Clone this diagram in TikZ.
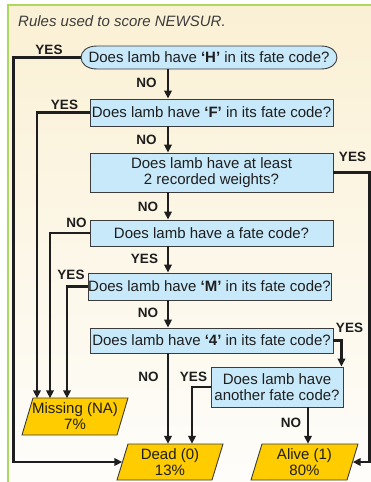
\documentclass[tikz,border=0pt]{standalone}
\usepackage{fontspec}
\setmainfont{Liberation Sans}
\usetikzlibrary{arrows.meta}
\definecolor{bgtop}{RGB}{250,240,212}
\definecolor{bgbot}{RGB}{254,253,250}
\definecolor{frameg}{RGB}{172,216,98}
\definecolor{boxblue}{RGB}{200,233,250}
\definecolor{boxline}{RGB}{60,60,60}
\definecolor{gold}{RGB}{255,204,0}
\definecolor{ink}{RGB}{30,30,30}
\definecolor{titlec}{RGB}{60,60,60}
\begin{document}
\begin{tikzpicture}[x=1pt,y=-1pt,
  qbox/.style={draw=boxline,fill=boxblue,line width=0.9pt,minimum width=243pt,inner sep=0pt,align=center,font=\fontsize{15}{16}\selectfont,text=ink},
  pshape/.style={draw=boxline,fill=gold,line width=0.9pt},
  ptext/.style={inner sep=0pt,align=center,minimum width=95pt,minimum height=36pt,font=\fontsize{15}{16}\selectfont,text=ink},
  lab/.style={font=\fontsize{13.5}{14}\selectfont\bfseries,text=ink,inner sep=0pt},
  conn/.style={draw=ink,line width=2.4pt,-{Triangle[length=8pt,width=7.5pt]}},
]
\useasboundingbox (0,0) rectangle (371,482);
\fill[white] (0,0) rectangle (371,482);
\fill[top color=bgtop,bottom color=bgbot] (8,5) rectangle (371,482);
\draw[frameg,line width=1.5pt] (8,482) -- (8,5) -- (371,5);

\node[anchor=west,font=\fontsize{15}{16}\selectfont\itshape,text=titlec,inner sep=0pt] (title) at (18,21) {Rules used to score NEWSUR.};

% shapes drawn directly
\filldraw[draw=boxline,fill=boxblue,line width=0.9pt] (97,46) -- (321,46) .. controls (342.3,46) and (342.3,69) .. (321,69) -- (97,69) .. controls (75.7,69) and (75.7,46) .. (97,46) -- cycle;
\filldraw[pshape] (33,398) -- (128,398) -- (117,435) -- (22,435) -- cycle;
\filldraw[pshape] (128,444) -- (223,444) -- (212,480) -- (117,480) -- cycle;
\filldraw[pshape] (262,444) -- (358,444) -- (347,480) -- (251,480) -- cycle;

% nodes
\node[qbox,draw=none,fill=none,minimum width=256pt,minimum height=23pt] (H) at (209,57.5) {Does lamb have \textbf{‘H’} in its fate code?};
\node[qbox,minimum height=27pt] (F) at (211.5,112.5) {Does lamb have \textbf{‘F’} in its fate code?};
\node[qbox,minimum height=39pt] (W) at (211.5,172.5) {Does lamb have at least\\2 recorded weights?};
\node[qbox,minimum height=26pt] (FC) at (211.5,233) {Does lamb have a fate code?};
\node[qbox,minimum height=27pt] (M) at (209.5,286.5) {Does lamb have \textbf{‘M’} in its fate code?};
\node[qbox,minimum height=25pt] (F4) at (211.5,340.5) {Does lamb have \textbf{‘4’} in its fate code?};
\node[qbox,minimum width=132pt,minimum height=40pt] (AN) at (277,387) {Does lamb have\\another fate code?};
\node[ptext] (Miss) at (75,416.5) {Missing (NA)\\7\%};
\node[ptext] (Dead) at (170,462) {Dead (0)\\13\%};
\node[ptext,minimum width=96pt] (Alive) at (304.5,462) {Alive (1)\\80\%};

\coordinate (spine) at (168,0);
\coordinate (spine2) at (308,0);

% connectors
\draw[conn] (H.south -| spine) -- (F.north -| spine);
\draw[conn] (F.south -| spine) -- (W.north -| spine);
\draw[conn] (W.south -| spine) -- (FC.north -| spine);
\draw[conn] (FC.south -| spine) -- (M.north -| spine);
\draw[conn] (M.south -| spine) -- (F4.north -| spine);
\draw[conn] (F4.south -| spine) -- (Dead.north -| spine);
\draw[conn] (AN.south -| spine2) -- (Alive.north -| spine2);
\draw[conn] (H.west) -- ++(-67,0) |- (Dead.west);
\draw[conn] (F.west) -| ([xshift=-38pt]Miss.north);
\draw[conn] (FC.west) -| ([xshift=-25pt]Miss.north);
\draw[conn] (M.west) -| ([xshift=-8pt]Miss.north);
\draw[conn] (W.east) -- ++(36,0) |- (Alive.east);
\draw[conn] (F4.east) -| ([xshift=-2pt]AN.north east);
\draw[conn] (AN.west) -| ([xshift=22pt]Dead.north);

% labels
\node[lab] (l1) at (49,50) {YES};
\node[lab] (l2) at (146.5,83) {NO};
\node[lab] (l3) at (64.5,105) {YES};
\node[lab] (l4) at (146.5,140) {NO};
\node[lab] (l5) at (352.5,157) {YES};
\node[lab] (l6) at (148,207) {NO};
\node[lab] (l7) at (76.5,223) {NO};
\node[lab] (l8) at (144.5,259) {YES};
\node[lab] (l9) at (71,275) {YES};
\node[lab] (l10) at (148,313) {NO};
\node[lab] (l11) at (349.5,328) {YES};
\node[lab] (l12) at (148.5,377) {NO};
\node[lab] (l13) at (193.5,377) {YES};
\node[lab] (l14) at (291,423) {NO};
\end{tikzpicture}
\end{document}
